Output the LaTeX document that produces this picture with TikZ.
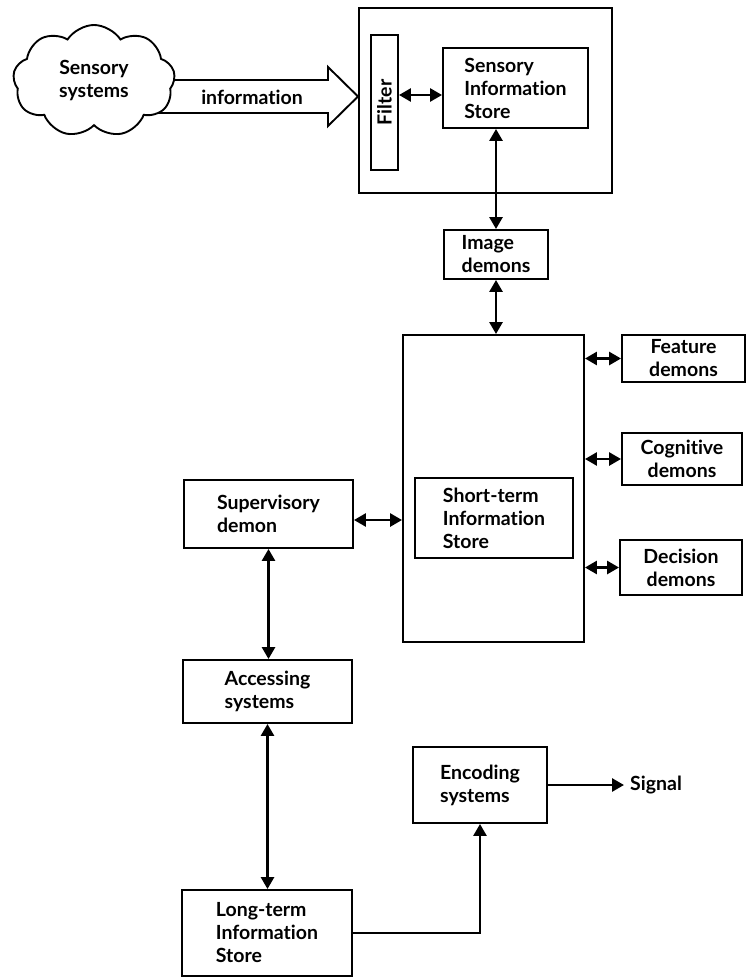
\documentclass[tikz,border=0pt]{standalone}
\usepackage{fontspec}
\setmainfont{Lato}[Ligatures=NoCommon]
\usetikzlibrary{positioning,arrows.meta,shapes.symbols}
\tikzset{
  blk/.style={draw, line width=1.9pt, font=\bfseries\fontsize{19.5}{23}\selectfont, align=left, inner sep=0pt},
  lbl/.style={font=\bfseries\fontsize{19.5}{23}\selectfont, inner sep=0pt},
  dbl/.style={{Triangle[length=12pt,width=13pt]}-{Triangle[length=12pt,width=13pt]}, line width=2.7pt},
  sgl/.style={-{Triangle[length=12pt,width=13pt]}, line width=2.7pt},
}

\begin{document}
\begin{tikzpicture}[x=1pt, y=-1pt]
\useasboundingbox (0,0) rectangle (746,979);

%% ---- sensory input
\draw[line width=1.9pt, fill=white] (150,80) -- (328,80) -- (328,67) -- (358,96.5)
  -- (328,126) -- (328,113) -- (150,113) -- cycle;
\node[lbl] (info) at (252,97) {information};
\node[cloud, draw, fill=white, line width=1.9pt, cloud puffs=9, cloud puff arc=115,
  aspect=1.5, minimum width=162pt, minimum height=112pt, lbl, align=center] (sens)
  at (94,81) {Sensory\\systems};

%% ---- sensory store
\node[blk, minimum width=253pt, minimum height=185pt] (outer) at (485.5,100.5) {};
\node[blk, rotate=90, minimum width=135pt, minimum height=27pt] (filt) at (384.5,102.5) {Filter};
\node[blk, minimum width=145pt, minimum height=80pt] (sis) at (515.5,88) {Sensory\\Information\\Store};
\node[blk, minimum width=104pt, minimum height=49pt] (imgd) at (496,254.5) {Image\\demons};

%% ---- short-term store and its demons
\node[blk, minimum width=181pt, minimum height=307pt] (stm) at (493.5,488.5) {};
\node[blk, minimum width=158pt, minimum height=80pt] (stis) at (494,518) {Short-term\\Information\\Store};
\node[blk, align=center, minimum width=123pt, minimum height=47pt] (feat) at (683.5,358.5) {Feature\\demons};
\node[blk, align=center, minimum width=120pt, minimum height=52pt] (cog) at (682,459) {Cognitive\\demons};
\node[blk, align=center, minimum width=122pt, minimum height=55pt] (dec) at (681,567.5) {Decision\\demons};

%% ---- left column
\node[blk, minimum width=169pt, minimum height=68pt] (sup) at (268.5,514) {Supervisory\\demon};
\node[blk, minimum width=169pt, minimum height=63pt] (acc) at (267.5,691.5) {Accessing\\systems};
\node[blk, minimum width=170pt, minimum height=86pt] (ltm) at (267,933) {Long-term\\Information\\Store};
\node[blk, minimum width=134pt, minimum height=76pt] (enc) at (480,785) {Encoding\\systems};
\node[lbl, anchor=west, inner xsep=6pt] (sig) at (624,785) {Signal};

%% ---- connectors
\coordinate (fy) at (0,95);
\draw[dbl] (filt.south |- fy) -- (sis.west |- fy);
\draw[dbl] (imgd.north) -- (imgd.north |- sis.south);
\draw[dbl] (imgd.south) -- (imgd.south |- stm.north);
\draw[dbl] (stm.east |- feat.west) -- (feat.west);
\draw[dbl] (stm.east |- cog.west) -- (cog.west);
\draw[dbl] (stm.east |- dec.west) -- (dec.west);
\draw[dbl] ([yshift=-6pt]sup.east) -- ([yshift=-6pt]sup.east -| stm.west);
\draw[dbl] (sup.south) -- (sup.south |- acc.north);
\draw[dbl] (acc.south) -- (acc.south |- ltm.north);
\draw[sgl] (ltm.east) -| (enc.south);
\draw[sgl] (enc.east) -- (sig.west);
\end{tikzpicture}
\end{document}
